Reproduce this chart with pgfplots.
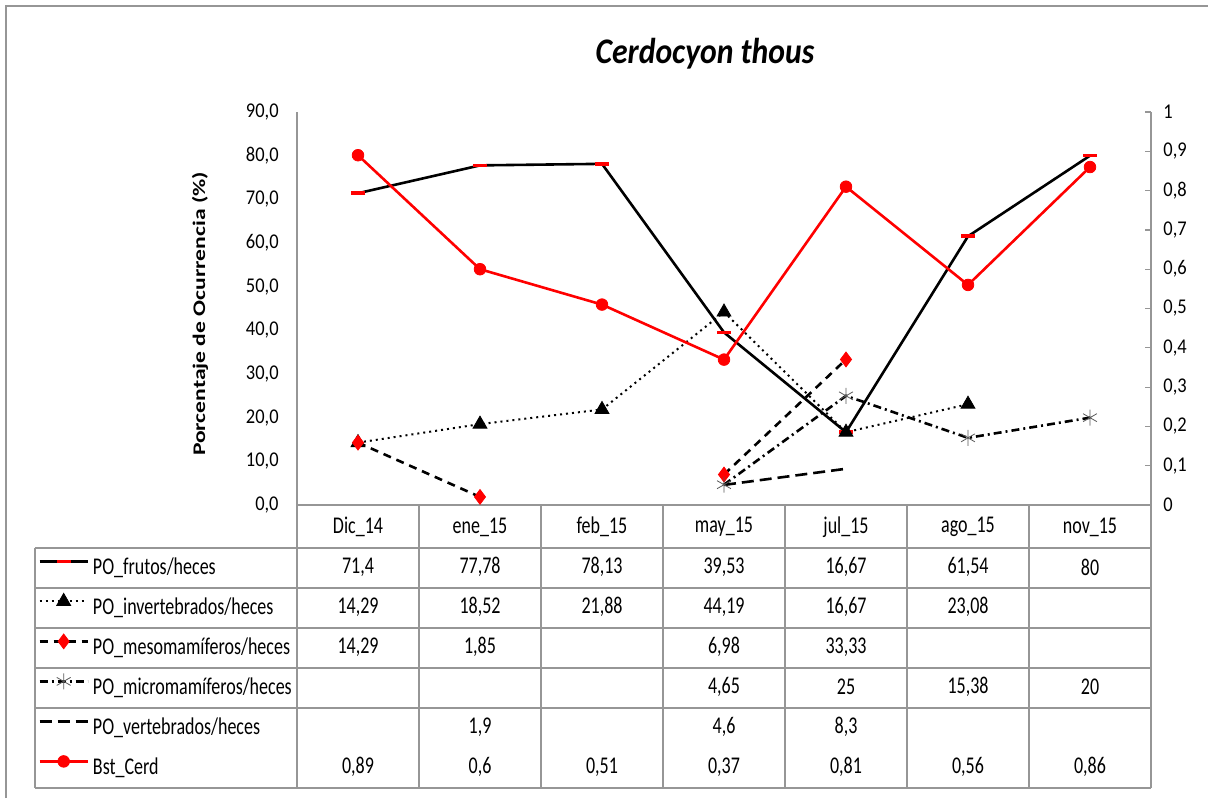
\documentclass[border=0pt]{standalone}
\usepackage{fontspec}
\setmainfont{Carlito}[FakeStretch=0.75]
\newfontfamily\tickfont{Carlito}[FakeStretch=0.88]
\newfontfamily\titlefont{Carlito}[FakeStretch=0.88]
\newfontfamily\labelfont{Carlito}
\usepackage{pgfplots}
\usepackage{pgfplotstable}
\pgfplotsset{compat=1.18}

\definecolor{gridgray}{RGB}{150,150,150}

% x: 0=Dic_14 ... 6=nov_15
\pgfplotstableread{
x  frutos invert meso  micro  vert  bst
0  71.4   14.29  14.29 nan    nan   0.89
1  77.78  18.52  1.85  nan    1.9   0.6
2  78.13  21.88  nan   nan    nan   0.51
3  39.53  44.19  6.98  4.65   4.6   0.37
4  16.67  16.67  33.33 25     8.3   0.81
5  61.54  23.08  nan   15.38  nan   0.56
6  80     nan    nan   20     nan   0.86
}\datatable

\pgfplotsset{
  base/.style={
    scale only axis, width=427pt, height=196.5pt,
    xmin=-0.5, xmax=6.5, ymin=0,
    unbounded coords=jump,
    xtick=\empty,
    axis line style={draw=gridgray, line width=0.6pt, -},
    /pgf/number format/assume math mode=true,
    tick label style={font=\tickfont\fontsize{10.5}{12}\selectfont},
  },
  frutos/.style={black, line width=1.3pt, mark=-, mark size=3.5pt,
    mark options={red, line width=1.8pt, solid}},
  invert/.style={black, line width=1pt, dotted, mark=triangle*, mark size=4pt,
    mark options={solid, black, line width=0.4pt}},
  meso/.style={black, line width=1.3pt, dash pattern=on 4pt off 3pt, mark=diamond*,
    mark size=3.7pt, mark options={solid, red, line width=0.4pt}},
  micro/.style={black, line width=1.3pt, dash pattern=on 4pt off 2pt on 1pt off 2pt,
    mark=asterisk, mark size=4pt, mark options={solid, black!65, line width=0.4pt}},
  vert/.style={black, line width=1.3pt, dash pattern=on 6pt off 3pt},
  bst/.style={red, line width=1.3pt, mark=*, mark size=2.9pt, mark options={line width=0.4pt}},
}

\begin{document}
\fontsize{12}{14}\selectfont
\begin{tikzpicture}
\begin{axis}[base, ymax=90, ytick={0,10,...,90},
  axis x line*=bottom, axis y line*=left, major tick length=0pt,
  yticklabel style={xshift=-5pt, /pgf/number format/.cd, fixed, fixed zerofill, precision=1, use comma}]
\addplot[frutos] table[x=x, y=frutos] {\datatable};
\addplot[invert] table[x=x, y=invert] {\datatable};
\addplot[meso] table[x=x, y=meso] {\datatable};
\addplot[micro] table[x=x, y=micro] {\datatable};
\addplot[vert] table[x=x, y=vert] {\datatable};
\end{axis}

\begin{axis}[base, ymax=1, ytick={0,0.1,0.2,0.3,0.4,0.5,0.6,0.7,0.8,0.9,1},
  axis y line*=right, axis x line=none,
  tick align=inside, major tick length=3pt, ytick style={draw=gridgray, line width=0.6pt},
  yticklabel style={xshift=2pt, /pgf/number format/.cd, fixed, precision=1, use comma},
  legend image code/.code={
    \draw[mark repeat=2, mark phase=2, #1] plot coordinates {(0pt,3.5pt) (12pt,3.5pt) (24pt,3.5pt)};
  },
  legend style={at={(-0.3033,-0.1094)}, anchor=north west, draw=none, fill=none,
    inner sep=0pt, row sep=0pt, font=\fontsize{12}{14}\selectfont,
    nodes={minimum height=20pt, inner sep=2pt}},
  legend cell align=left]
\addlegendimage{frutos}
\addlegendimage{invert}
\addlegendimage{meso}
\addlegendimage{micro}
\addlegendimage{vert}
\addplot[bst] table[x=x, y=bst] {\datatable};
\legend{PO\_frutos/heces, PO\_invertebrados/heces, PO\_mesomamíferos/heces,
  PO\_micromamíferos/heces, PO\_vertebrados/heces, Bst\_Cerd}
\end{axis}

% frame, title and data table in pixel units of the reference
\begin{scope}[x=0.5pt, y=-0.5pt, shift={(-148.5pt,252.5pt)}]
\draw[gridgray, line width=0.8pt] (6,798) -- (6,6) -- (1208,6);
\node[font=\titlefont\fontsize{18}{20}\selectfont\bfseries\itshape] at (705,54) {Cerdocyon thous};
\node[rotate=90, yscale=0.75, font=\labelfont\bfseries\fontsize{11.8}{13}\selectfont] at (200,314) {Porcentaje de Ocurrencia (\%)};

\begin{scope}[gridgray, line width=0.6pt]
\foreach \y in {548,588,628,668,708,788} \draw (35,\y) -- (1151,\y);
\draw (35,548) -- (35,788);
\foreach \x in {297,419,541,663,785,907,1029,1151} \draw (\x,505) -- (\x,788);
\end{scope}

\foreach \c [count=\i from 0] in {Dic\_14,ene\_15,feb\_15,may\_15,jul\_15,ago\_15,nov\_15}
  \node at (358+122*\i,527) {\c};
\foreach \v [count=\i from 0] in {{71,4},{77,78},{78,13},{39,53},{16,67},{61,54},{80}}
  \node at (358+122*\i,567) {\v};
\foreach \v [count=\i from 0] in {{14,29},{18,52},{21,88},{44,19},{16,67},{23,08},{}}
  \node at (358+122*\i,607) {\v};
\foreach \v [count=\i from 0] in {{14,29},{1,85},{},{6,98},{33,33},{},{}}
  \node at (358+122*\i,647) {\v};
\foreach \v [count=\i from 0] in {{},{},{},{4,65},{25},{15,38},{20}}
  \node at (358+122*\i,687) {\v};
\foreach \v [count=\i from 0] in {{},{1,9},{},{4,6},{8,3},{},{}}
  \node at (358+122*\i,727) {\v};
\foreach \v [count=\i from 0] in {{0,89},{0,6},{0,51},{0,37},{0,81},{0,56},{0,86}}
  \node at (358+122*\i,767) {\v};

\pgfresetboundingbox
\path[use as bounding box] (0,0) rectangle (1208,798);
\end{scope}
\end{tikzpicture}
\end{document}
